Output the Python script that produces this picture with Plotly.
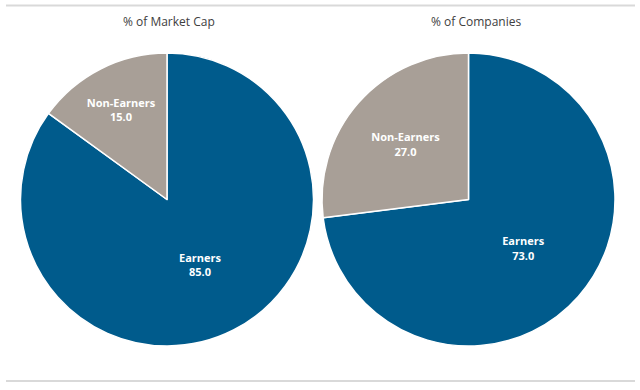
import plotly.graph_objects as go

categories = ["Earners", "Non-Earners"]
market_cap_pct = [85.0, 15.0]
companies_pct = [73.0, 27.0]
titles = ["% of Market Cap", "% of Companies"]
colors = ["#005b8c", "#a89f97"]

W, H = 640, 390

def pie(values, x0, x1, y0, y1):
    return go.Pie(
        labels=categories,
        values=values,
        sort=False,
        direction="clockwise",
        rotation=0,
        marker=dict(colors=colors, line=dict(color="white", width=1.5)),
        texttemplate="<b>%{label}<br>%{value:.1f}</b>",
        textposition="inside",
        insidetextorientation="horizontal",
        textfont=dict(family="Open Sans, sans-serif", size=11, color="white"),
        hoverinfo="label+value",
        showlegend=False,
        domain=dict(x=[x0 / W, x1 / W], y=[1 - y1 / H, 1 - y0 / H]),
    )

fig = go.Figure()
fig.add_trace(pie(market_cap_pct, 20.5, 313.5, 53, 346))
fig.add_trace(pie(companies_pct, 322, 615, 53, 346))

for t, cx in zip(titles, [169, 476]):
    fig.add_annotation(
        text=t, x=cx / W, y=1 - 21 / H, xref="paper", yref="paper",
        showarrow=False, xanchor="center", yanchor="middle",
        font=dict(family="Open Sans, sans-serif", size=12, color="#404040"),
    )

for yy in [5.5, 381]:
    fig.add_shape(type="line", xref="paper", yref="paper",
                  x0=6 / W, x1=635 / W, y0=1 - yy / H, y1=1 - yy / H,
                  line=dict(color="#d9d9d9", width=2))

fig.update_layout(
    width=W, height=H,
    margin=dict(l=0, r=0, t=0, b=0),
    paper_bgcolor="white", plot_bgcolor="white",
    uniformtext=dict(minsize=9, mode="show"),
)

fig.write_html(
    "out.html",
    config={"displayModeBar": False},
    post_script="document.body.style.margin='0';document.body.style.padding='0';",
)
